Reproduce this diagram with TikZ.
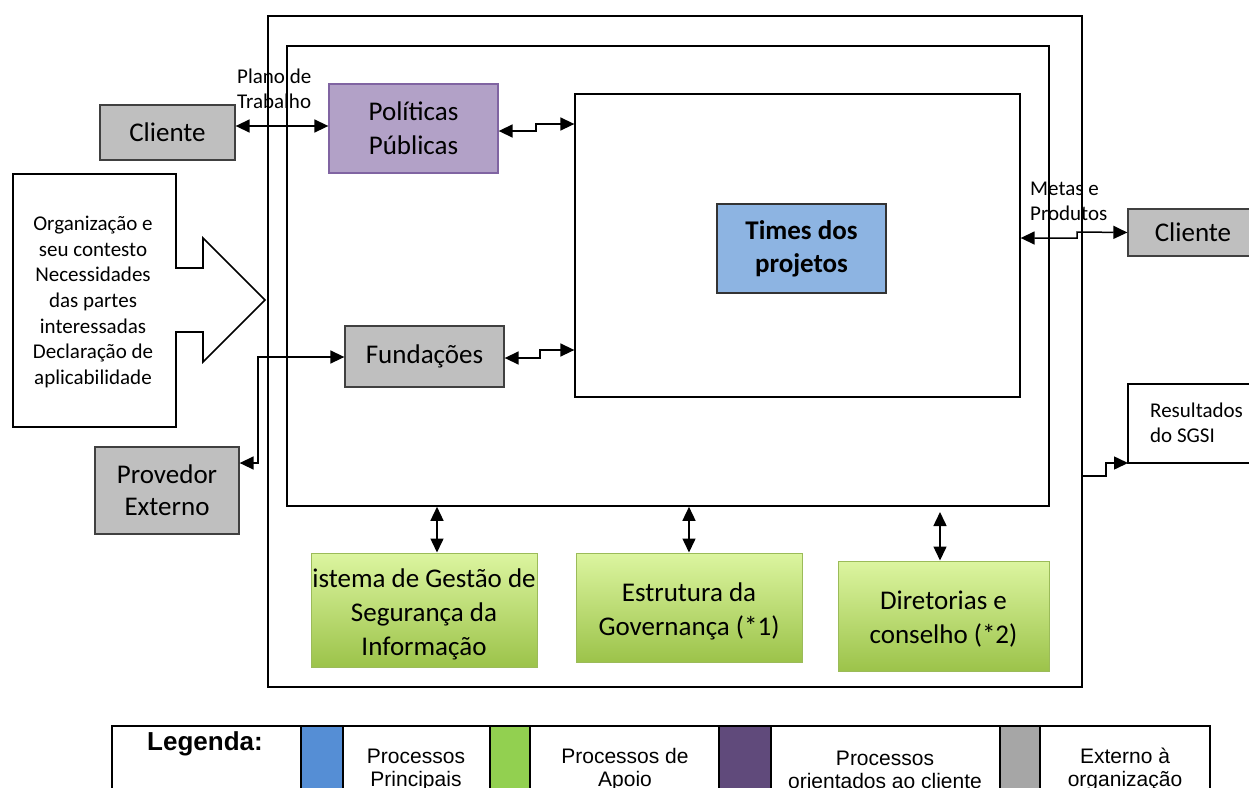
\documentclass[tikz,border=0pt]{standalone}
\usepackage{fontspec}
\setmainfont{Carlito}
\newfontfamily\arialf{Liberation Sans}
\usetikzlibrary{arrows.meta,calc}
\definecolor{grayfill}{HTML}{BFBFBF}
\definecolor{polfill}{HTML}{B2A1C7}
\definecolor{poldraw}{HTML}{8064A2}
\definecolor{timesfill}{HTML}{8DB4E2}
\definecolor{gtop}{HTML}{DCF5A0}
\definecolor{gbot}{HTML}{9CC34A}
\definecolor{gdraw}{HTML}{9BBB59}
\definecolor{legblue}{HTML}{558ED5}
\definecolor{leggreen}{HTML}{92D050}
\definecolor{legpurple}{HTML}{604A7B}
\definecolor{leggray}{HTML}{A6A6A6}
\tikzset{
  frame/.style={draw=black, line width=1.6pt},
  graybox/.style={draw=black!75, line width=1.3pt, fill=grayfill, inner sep=0pt, align=center, font=\fontsize{27}{32}\selectfont},
  polbox/.style={draw=poldraw, line width=1.3pt, fill=polfill, inner sep=0pt, align=center, font=\fontsize{27}{34}\selectfont},
  timesbox/.style={draw=black!80, line width=1.3pt, fill=timesfill, inner sep=0pt, align=center, font=\fontsize{27}{33}\selectfont\bfseries},
  greenbox/.style={draw=gdraw, line width=1pt, top color=gtop, bottom color=gbot, inner sep=0pt},
  greentxt/.style={inner sep=0pt, align=center, font=\fontsize{27}{34}\selectfont},
  lbl/.style={inner sep=0pt, align=left, font=\fontsize{21}{25}\selectfont},
  dbl/.style={line width=1.5pt, {Triangle[length=14pt,width=13pt]}-{Triangle[length=14pt,width=13pt]}},
  sgl/.style={line width=1.5pt, -{Triangle[length=14pt,width=13pt]}},
  legtxt/.style={inner sep=0pt, align=center, font=\arialf\fontsize{21}{23}\selectfont},
}
\begin{document}
\begin{tikzpicture}[x=1pt,y=-1pt]
\useasboundingbox (0,0) rectangle (1249,787);
\clip (0,0) rectangle (1249,787);
% frames
\node[frame, minimum width=814, minimum height=671, inner sep=0pt] (outer) at (675,351.5) {};
\node[frame, minimum width=762, minimum height=460, inner sep=0pt] (inner) at (668,276) {};
\node[draw=black, line width=1.3pt, minimum width=445, minimum height=303, inner sep=0pt] (tbox) at (797.5,245.5) {};
% boxes
\node[timesbox, minimum width=169, minimum height=89] (times) at (801.5,248.5) {Times dos\\projetos};
\node[polbox, minimum width=169, minimum height=89] (pol) at (413.5,128.5) {Políticas\\Públicas};
\node[graybox, minimum width=159, minimum height=61] (fund) at (424.5,356.5) {Fundações};
\node[graybox, minimum width=135, minimum height=55] (cl1) at (167.5,132.5) {Cliente};
\node[graybox, minimum width=130, minimum height=47] (cl2) at (1193,232.5) {Cliente};
\node[graybox, minimum width=144, minimum height=87] (prov) at (167,490.5) {Provedor\\Externo};
% green boxes
\node[greenbox, minimum width=226, minimum height=114] (sgsi) at (424,610) {};
\node[greenbox, minimum width=226, minimum height=109] (estr) at (689,607.5) {};
\node[greenbox, minimum width=211, minimum height=110] (dir) at (943.5,616) {};
\begin{scope}
\clip (sgsi.south west) rectangle (sgsi.north east);
\node[greentxt] (sgsit) at ([yshift=-4pt]sgsi.center) {istema de Gestão de\\Segurança da\\Informação};
\end{scope}
\node[greentxt] (estrt) at ([yshift=-4pt]estr.center) {Estrutura da\\Governança (*1)};
\node[greentxt] (dirt) at ([yshift=-3pt]dir.center) {Diretorias e\\conselho (*2)};
% big arrow
\draw[line width=1.6pt, fill=white, line join=miter] (13,174) -- (176,174) -- (176,268) -- (203,268) -- (203,238) -- (265,300) -- (203,362) -- (203,332) -- (176,332) -- (176,427) -- (13,427) -- cycle;
\node[inner sep=0pt, align=center, font=\fontsize{21}{25.7}\selectfont] (org) at (93,302) {Organização e\\seu contesto\\Necessidades\\das partes\\interessadas\\Declaração de\\aplicabilidade};
% resultados box
\draw[line width=1.5pt] (1249,384) -- (1128,384) -- (1128,463) -- (1249,463);
\node[lbl, anchor=west] (res) at (1150,423) {Resultados\\do SGSI};
% labels
\node[lbl, anchor=west] (plano) at (237,89) {Plano de\\Trabalho};
\node[lbl, anchor=west] (metas) at (1030,201) {Metas e\\Produtos};
% connectors
\draw[dbl] (cl1.east |- 0,126) -- (pol.west |- 0,126);
\draw[dbl] (pol.east |- 0,131) -- (536,131) -- (536,124) -- (tbox.west |- 0,124);
\draw[dbl] (fund.east |- 0,358) -- (540,358) -- (540,350) -- (tbox.west |- 0,350);
\draw[dbl] (tbox.east |- 0,238) -- (1077,238) -- (1077,232) -- (cl2.west);
\draw[dbl] (fund.west |- 0,357) -- (258,357) -- (258,463) -- (prov.east |- 0,463);
\draw[sgl] (outer.east |- 0,476) -- (1106,476) -- (1106,463) -- (1128,463);
\draw[dbl] (inner.south -| 437,0) -- (sgsi.north -| 437,0);
\draw[dbl] (inner.south -| 689,0) -- (estr.north -| 689,0);
\draw[dbl] (940,512) -- (dir.north -| 940,0);
% legend
\fill[legblue] (301,726) rectangle (343,800);
\fill[leggreen] (490,726) rectangle (530,800);
\fill[legpurple] (719,726) rectangle (771,800);
\fill[leggray] (1000,726) rectangle (1040,800);
\draw[line width=1.3pt] (112,800) -- (112,726) -- (1210,726) -- (1210,800);
\foreach \xx in {301,343,490,530,719,771,1000,1040} \draw[line width=1.3pt] (\xx,726) -- (\xx,800);
\node[inner sep=0pt, font=\arialf\bfseries\fontsize{26}{28}\selectfont] (leg) at (205,744) {Legenda:};
\node[legtxt] (l1) at (416,769.5) {Processos\\Principais};
\node[legtxt] (l2) at (625,769.5) {Processos de\\Apoio};
\node[legtxt] (l3) at (885,769.5) {Processos\\orientados ao cliente};
\node[legtxt] (l4) at (1125,769.5) {Externo à\\organização};
\end{tikzpicture}
\end{document}
